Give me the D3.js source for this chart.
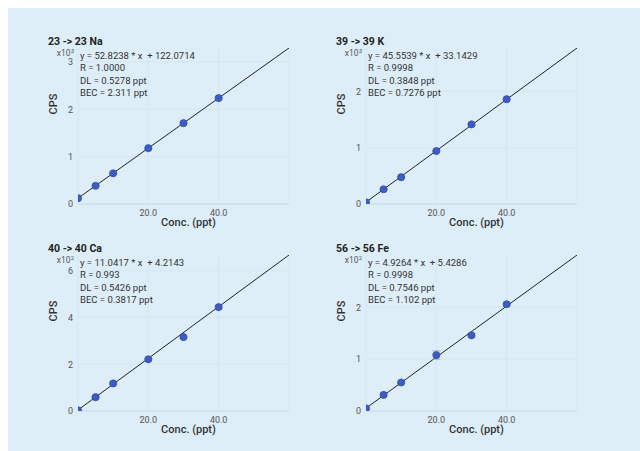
<!DOCTYPE html>
<meta charset="utf-8">
<head>
    <style>
        body { margin: 0; background: #fff; }
        svg { display: block; font-family: Roboto, "Noto Sans", sans-serif; }
        .tick-label { font-size: 9px; fill: #555; }
        .exp-label { font-size: 8.5px; fill: #555; }
        .note { font-size: 9.5px; fill: #333; white-space: pre; }
        .title { font-size: 10.5px; font-weight: bold; fill: #222; }
        .axis-title { font-size: 11px; font-weight: 500; fill: #333; }
    </style>
    <script src="https://cdn.jsdelivr.net/npm/d3@7"></script>
</head>
<body>
<script>
    const width = 640
    const height = 451

    // data
    const conc = [0, 5, 10, 20, 30, 40]
    const elements = ["23 -> 23 Na", "39 -> 39 K", "40 -> 40 Ca", "56 -> 56 Fe"]
    const slopes = [52.8238, 45.5539, 11.0417, 4.9264]
    const intercepts = [122.0714, 33.1429, 4.2143, 5.4286]
    const rText = ["1.0000", "0.9998", "0.993", "0.9998"]
    const dlText = ["0.5278", "0.3848", "0.5426", "0.7546"]
    const becText = ["2.311", "0.7276", "0.3817", "1.102"]
    const cpsNa = [122, 385, 648, 1178, 1706, 2236]
    const cpsK = [30, 262, 475, 940, 1412, 1858]
    const cpsCa = [3, 59, 118, 221, 316, 444]
    const cpsFe = [5, 31, 55, 108, 146, 206]
    const errNa = [8, 12, 14, 18, 20, 22]
    const errK = [6, 10, 12, 16, 18, 20]
    const errCa = [2, 3, 4, 4, 5, 5]
    const errFe = [1, 2, 2, 8, 4, 4]
    const yFactor = [1000, 1000, 100, 100]
    const yExp = ["3", "3", "2", "2"]
    const yTicks = [[0, 1, 2, 3], [0, 1, 2], [0, 2, 4, 6], [0, 1, 2]]
    const xTicks = [20, 40]
    const xMax = 60

    const series = [cpsNa, cpsK, cpsCa, cpsFe]
    const errors = [errNa, errK, errCa, errFe]

    // panel placement
    const originX = [78, 366, 78, 366]
    const originY = [204, 204, 411, 411]
    const plotW = 211
    const plotH = 156

    const svg = d3.select("body").append("svg")
        .attr("width", width)
        .attr("height", height)

    svg.append("rect")
        .attr("x", 8).attr("y", 8)
        .attr("width", width - 8).attr("height", height - 8)
        .attr("fill", "#ddeef8")

    elements.forEach((name, k) => {
        const g = svg.append("g")
            .attr("transform", "translate(" + originX[k] + "," + (originY[k] - plotH) + ")")

        const fit = x => slopes[k] * x + intercepts[k]

        const xScale = d3.scaleLinear().domain([0, xMax]).range([0, plotW])
        const yScale = d3.scaleLinear().domain([0, fit(xMax)]).range([plotH, 0])

        g.append("clipPath").attr("id", "clip" + k)
            .append("rect").attr("width", plotW).attr("height", plotH)

        // faint grid
        g.selectAll(".gx").data(xTicks.concat([xMax]))
            .enter().append("line")
            .attr("x1", d => xScale(d)).attr("x2", d => xScale(d))
            .attr("y1", 0).attr("y2", plotH)
            .attr("stroke", "#d3e2eb").attr("stroke-width", 0.6)

        g.selectAll(".gy").data(yTicks[k].filter(d => d > 0))
            .enter().append("line")
            .attr("x1", 0).attr("x2", plotW)
            .attr("y1", d => yScale(d * yFactor[k])).attr("y2", d => yScale(d * yFactor[k]))
            .attr("stroke", "#d3e2eb").attr("stroke-width", 0.6)

        g.append("line")
            .attr("x1", 0).attr("x2", plotW)
            .attr("y1", plotH).attr("y2", plotH)
            .attr("stroke", "#c3d3de").attr("stroke-width", 0.8)

        g.append("line")
            .attr("x1", 0).attr("x2", 0)
            .attr("y1", 0).attr("y2", plotH)
            .attr("stroke", "#d3e2eb").attr("stroke-width", 0.6)

        // tick labels
        g.selectAll(".xl").data(xTicks)
            .enter().append("text")
            .attr("class", "tick-label")
            .attr("x", d => xScale(d))
            .attr("y", plotH + 12)
            .attr("text-anchor", "middle")
            .text(d => d3.format(".1f")(d))

        g.selectAll(".yl").data(yTicks[k])
            .enter().append("text")
            .attr("class", "tick-label")
            .attr("x", -5)
            .attr("y", d => yScale(d * yFactor[k]) + 3.3)
            .attr("text-anchor", "end")
            .text(d => d)

        const exp = g.append("text")
            .attr("class", "exp-label")
            .attr("x", -4)
            .attr("y", 8.3)
            .attr("text-anchor", "end")
        exp.append("tspan").text("x10")
        exp.append("tspan").attr("dy", -3).attr("font-size", "6px").text(yExp[k])

        // titles
        g.append("text")
            .attr("class", "title")
            .attr("x", -30)
            .attr("y", -3)
            .text(name)

        g.append("text")
            .attr("class", "axis-title")
            .attr("transform", "translate(-21," + (plotH / 2 - 22) + ") rotate(-90)")
            .attr("text-anchor", "middle")
            .text("CPS")

        g.append("text")
            .attr("class", "axis-title")
            .attr("x", plotW / 2 + 5)
            .attr("y", plotH + 22)
            .attr("text-anchor", "middle")
            .text("Conc. (ppt)")

        // fit notes
        const notes = [
            "y = " + slopes[k].toFixed(4) + " * x  + " + intercepts[k].toFixed(4),
            "R = " + rText[k],
            "DL = " + dlText[k] + " ppt",
            "BEC = " + becText[k] + " ppt"
        ]
        g.selectAll(".note").data(notes)
            .enter().append("text")
            .attr("class", "note")
            .attr("x", 2)
            .attr("y", (d, i) => 11 + i * 12.3)
            .text(d => d)

        const plot = g.append("g").attr("clip-path", "url(#clip" + k + ")")

        plot.append("line")
            .attr("x1", xScale(0)).attr("y1", yScale(fit(0)))
            .attr("x2", xScale(xMax)).attr("y2", yScale(fit(xMax)))
            .attr("stroke", "#222").attr("stroke-width", 1)

        const pts = conc.map((c, i) => ({ x: c, y: series[k][i], e: errors[k][i] }))

        const bars = plot.selectAll(".err").data(pts).enter().append("g")
        bars.append("line")
            .attr("x1", d => xScale(d.x)).attr("x2", d => xScale(d.x))
            .attr("y1", d => yScale(d.y - d.e)).attr("y2", d => yScale(d.y + d.e))
            .attr("stroke", "#9aa4ad").attr("stroke-width", 0.8)
        bars.selectAll(".cap").data(d => [d.y - d.e, d.y + d.e].map(v => ({ x: d.x, v: v })))
            .enter().append("line")
            .attr("x1", d => xScale(d.x) - 4).attr("x2", d => xScale(d.x) + 4)
            .attr("y1", d => yScale(d.v)).attr("y2", d => yScale(d.v))
            .attr("stroke", "#9aa4ad").attr("stroke-width", 0.8)

        plot.selectAll(".pt").data(pts)
            .enter().append("circle")
            .attr("cx", d => xScale(d.x))
            .attr("cy", d => yScale(d.y))
            .attr("r", 3.6)
            .attr("fill", "#3b5cc4")
            .attr("stroke", "#2a45a0")
            .attr("stroke-width", 0.6)
    })
</script>
</body>
